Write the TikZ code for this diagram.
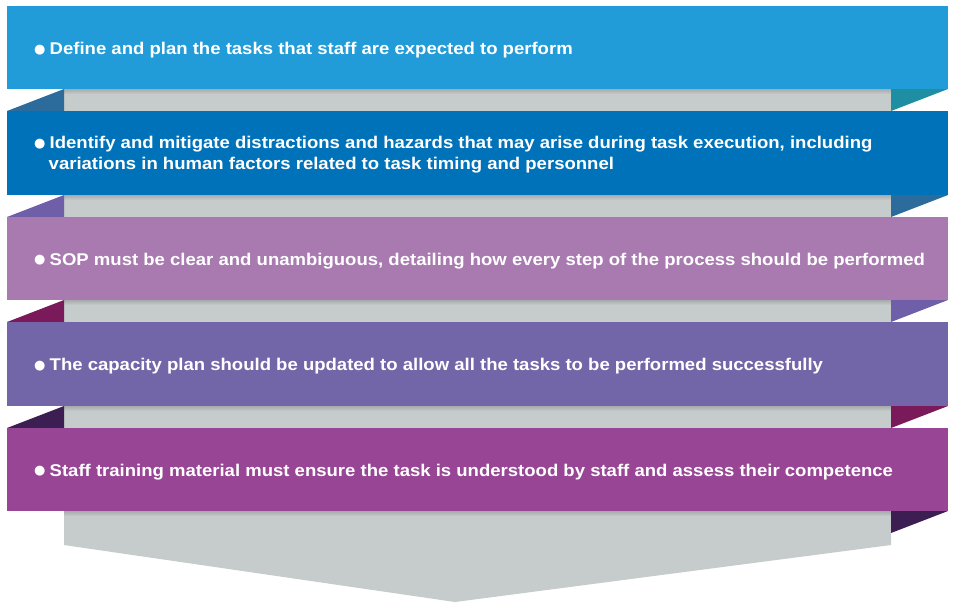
\documentclass[tikz,border=0pt]{standalone}
\usepackage{fontspec}
\setmainfont{Liberation Sans}
\newfontfamily\labelfont[FakeStretch=1.09]{Liberation Sans}
\newfontfamily\dotfont{DejaVu Sans}
\definecolor{cA}{RGB}{33,156,216}
\definecolor{cB}{RGB}{0,114,185}
\definecolor{cC}{RGB}{168,122,176}
\definecolor{cD}{RGB}{115,102,168}
\definecolor{cE}{RGB}{151,69,148}
\definecolor{cGray}{RGB}{198,203,203}
\definecolor{fTeal}{RGB}{30,142,162}
\definecolor{fBlue}{RGB}{44,108,156}
\definecolor{fPurple}{RGB}{110,95,168}
\definecolor{fMag}{RGB}{123,26,90}
\definecolor{fDark}{RGB}{60,30,82}
\tikzset{
  banner/.style={draw=none, rectangle, anchor=north west, minimum width=941pt, inner sep=0pt, outer sep=0pt},
  label/.style={anchor=west, text=white, font=\labelfont\fontsize{17}{21}\selectfont\bfseries, align=left, inner sep=0pt},
  shadowstrip/.style={top color=black!45, bottom color=cGray, draw=none, opacity=0.5}
}
\newcommand{\bul}{\makebox[15.5pt][l]{\raisebox{1.5pt}{\dotfont\fontsize{13}{13}\selectfont ●}}}
\begin{document}
\begin{tikzpicture}[x=1pt,y=-1pt]
\useasboundingbox (0,0) rectangle (955,606);
% gray arrow
\fill[cGray] (64,89) -- (891,89) -- (891,545) -- (455,602) -- (64,545) -- cycle;
% shadows below banners
\foreach \y in {89,195,300,406,511}{
  \shade[shadowstrip] (64,\y) rectangle (891,\y+5);
}
% folds
\fill[fBlue]   (64,89) -- (7,111) -- (64,111) -- cycle;
\fill[fTeal]   (891,89) -- (948,89) -- (891,111) -- cycle;
\fill[fPurple] (64,195) -- (7,217) -- (64,217) -- cycle;
\fill[fBlue]   (891,195) -- (948,195) -- (891,217) -- cycle;
\fill[fMag]    (64,300) -- (7,322) -- (64,322) -- cycle;
\fill[fPurple] (891,300) -- (948,300) -- (891,322) -- cycle;
\fill[fDark]   (64,406) -- (7,428) -- (64,428) -- cycle;
\fill[fMag]    (891,406) -- (948,406) -- (891,428) -- cycle;
\fill[fDark]   (891,511) -- (948,511) -- (891,533) -- cycle;
% banners
\node[banner, fill=cA, minimum height=83pt] (b1) at (7,6) {};
\node[banner, fill=cB, minimum height=84pt] (b2) at (7,111) {};
\node[banner, fill=cC, minimum height=83pt] (b3) at (7,217) {};
\node[banner, fill=cD, minimum height=84pt] (b4) at (7,322) {};
\node[banner, fill=cE, minimum height=83pt] (b5) at (7,428) {};
% texts
\node[label] (t1) at (34,50.5) {\bul Define and plan the tasks that staff are expected to perform};
\node[label] (t2) at (34,155) {\bul Identify and mitigate distractions and hazards that may arise during task execution, including\\\hspace*{14.5pt}variations in human factors related to task timing and personnel};
\node[label] (t3) at (34,261) {\bul SOP must be clear and unambiguous, detailing how every step of the process should be performed};
\node[label] (t4) at (34,366.5) {\bul The capacity plan should be updated to allow all the tasks to be performed successfully};
\node[label] (t5) at (34,472) {\bul Staff training material must ensure the task is understood by staff and assess their competence};
\end{tikzpicture}
\end{document}
